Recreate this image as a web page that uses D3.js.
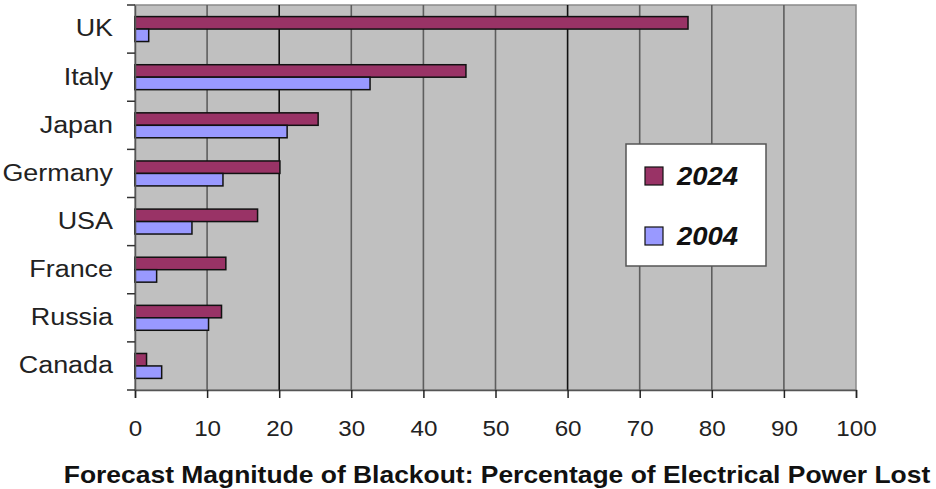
<!DOCTYPE html>
<html>
<head>
<meta charset="utf-8">
<script src="https://cdn.jsdelivr.net/npm/d3@7"></script>
<style>
  body { margin: 0; background: #fff; }
  svg text { font-family: "Liberation Sans", Arial, sans-serif; }
</style>
</head>
<body>
<svg id="chart"></svg>
<script>
// data
const countries = ["UK", "Italy", "Japan", "Germany", "USA", "France", "Russia", "Canada"];
const values2024 = [76.7, 45.9, 25.4, 20.1, 17.0, 12.6, 12.0, 1.6];
const values2004 = [1.9, 32.6, 21.1, 12.2, 7.9, 3.0, 10.2, 3.7];
const seriesNames = ["2024", "2004"];
const seriesColors = ["#993366", "#9999ff"];
const xTicks = [0, 10, 20, 30, 40, 50, 60, 70, 80, 90, 100];
const darkGrid = [20, 60];
const xTitle = "Forecast Magnitude of Blackout: Percentage of Electrical Power Lost";

const width = 936, height = 489;
const margin = {top: 5, right: 80, bottom: 99, left: 135};

const svg = d3.select("#chart")
    .attr("width", width)
    .attr("height", height);

const x = d3.scaleLinear()
    .domain([0, 100])
    .range([margin.left, width - margin.right]);

const y = d3.scaleBand()
    .domain(countries)
    .range([margin.top, height - margin.bottom]);

const inner = d3.scaleBand()
    .domain(seriesNames)
    .range([0, y.bandwidth()])
    .paddingOuter(0.93)
    .paddingInner(0);

// plot area
svg.append("rect")
    .attr("x", x(0))
    .attr("y", margin.top)
    .attr("width", x(100) - x(0))
    .attr("height", height - margin.bottom - margin.top)
    .attr("fill", "#c0c0c0")
    .attr("stroke", "#8a8a8a")
    .attr("stroke-width", 1.5);

// gridlines
svg.append("g")
    .selectAll("line")
    .data(xTicks.filter(d => d > 0 && d < 100))
    .enter()
    .append("line")
    .attr("x1", d => x(d))
    .attr("x2", d => x(d))
    .attr("y1", margin.top)
    .attr("y2", height - margin.bottom)
    .attr("stroke", d => darkGrid.includes(d) ? "#111" : "#5e5e5e")
    .attr("stroke-width", 1.6);

// bars
const series = [values2024, values2004];
const group = svg.append("g")
    .selectAll("g")
    .data(countries)
    .enter()
    .append("g")
    .attr("transform", d => `translate(0,${y(d)})`);

group.selectAll("rect")
    .data((d, i) => seriesNames.map((s, j) => ({s: s, v: series[j][i], c: seriesColors[j]})))
    .enter()
    .append("rect")
    .attr("x", x(0))
    .attr("y", d => inner(d.s))
    .attr("width", d => x(d.v) - x(0))
    .attr("height", inner.bandwidth())
    .attr("fill", d => d.c)
    .attr("stroke", "#111")
    .attr("stroke-width", 1.5);

// x axis
const xAxis = svg.append("g")
    .attr("transform", `translate(0,${height - margin.bottom})`)
    .call(d3.axisBottom(x).tickValues(xTicks).tickSize(8).tickPadding(22).tickFormat(d3.format("d")));
xAxis.select(".domain").attr("stroke", "#555").attr("stroke-width", 1.5);
xAxis.selectAll(".tick line").attr("stroke", "#222").attr("stroke-width", 1.5);
xAxis.selectAll("text")
    .attr("font-size", 22)
    .attr("fill", "#222")
    .attr("transform", "scale(1.1,1)")
    .attr("font-family", "Liberation Sans, Arial, sans-serif");

// y axis
const yAxis = svg.append("g")
    .attr("transform", `translate(${margin.left},0)`)
    .call(d3.axisLeft(y).tickSize(0).tickPadding(22));
yAxis.select(".domain").attr("stroke", "#555").attr("stroke-width", 1.5);
yAxis.selectAll("text")
    .attr("x", 0)
    .attr("transform", "translate(-22,0) scale(1.17,1)")
    .attr("font-size", 23)
    .attr("fill", "#222")
    .attr("font-family", "Liberation Sans, Arial, sans-serif");

// category boundary ticks
svg.append("g")
    .selectAll("line")
    .data(countries.concat([null]))
    .enter()
    .append("line")
    .attr("x1", margin.left - 8)
    .attr("x2", margin.left)
    .attr("y1", d => d === null ? height - margin.bottom : y(d))
    .attr("y2", d => d === null ? height - margin.bottom : y(d))
    .attr("stroke", "#333")
    .attr("stroke-width", 1.5);

// axis title
svg.append("text")
    .attr("transform", `translate(${(62 + 932) / 2},483) scale(1.15,1)`)
    .attr("text-anchor", "middle")
    .attr("font-size", 23)
    .attr("font-weight", "bold")
    .attr("fill", "#111")
    .text(xTitle);

// legend
const legend = svg.append("g").attr("transform", "translate(626,144)");
legend.append("rect")
    .attr("width", 140)
    .attr("height", 122)
    .attr("fill", "#fff")
    .attr("stroke", "#555")
    .attr("stroke-width", 1.5);

const item = legend.selectAll(".item")
    .data(seriesNames)
    .enter()
    .append("g")
    .attr("class", "item")
    .attr("transform", (d, i) => `translate(19,${23 + i * 60})`);

item.append("rect")
    .attr("width", 18)
    .attr("height", 18)
    .attr("fill", (d, i) => seriesColors[i])
    .attr("stroke", "#111")
    .attr("stroke-width", 1.2);

item.append("text")
    .attr("transform", "translate(32,18) scale(1.1,1)")
    .attr("font-size", 25)
    .attr("font-weight", "bold")
    .attr("font-style", "italic")
    .attr("fill", "#111")
    .text(d => d);
</script>
</body>
</html>
